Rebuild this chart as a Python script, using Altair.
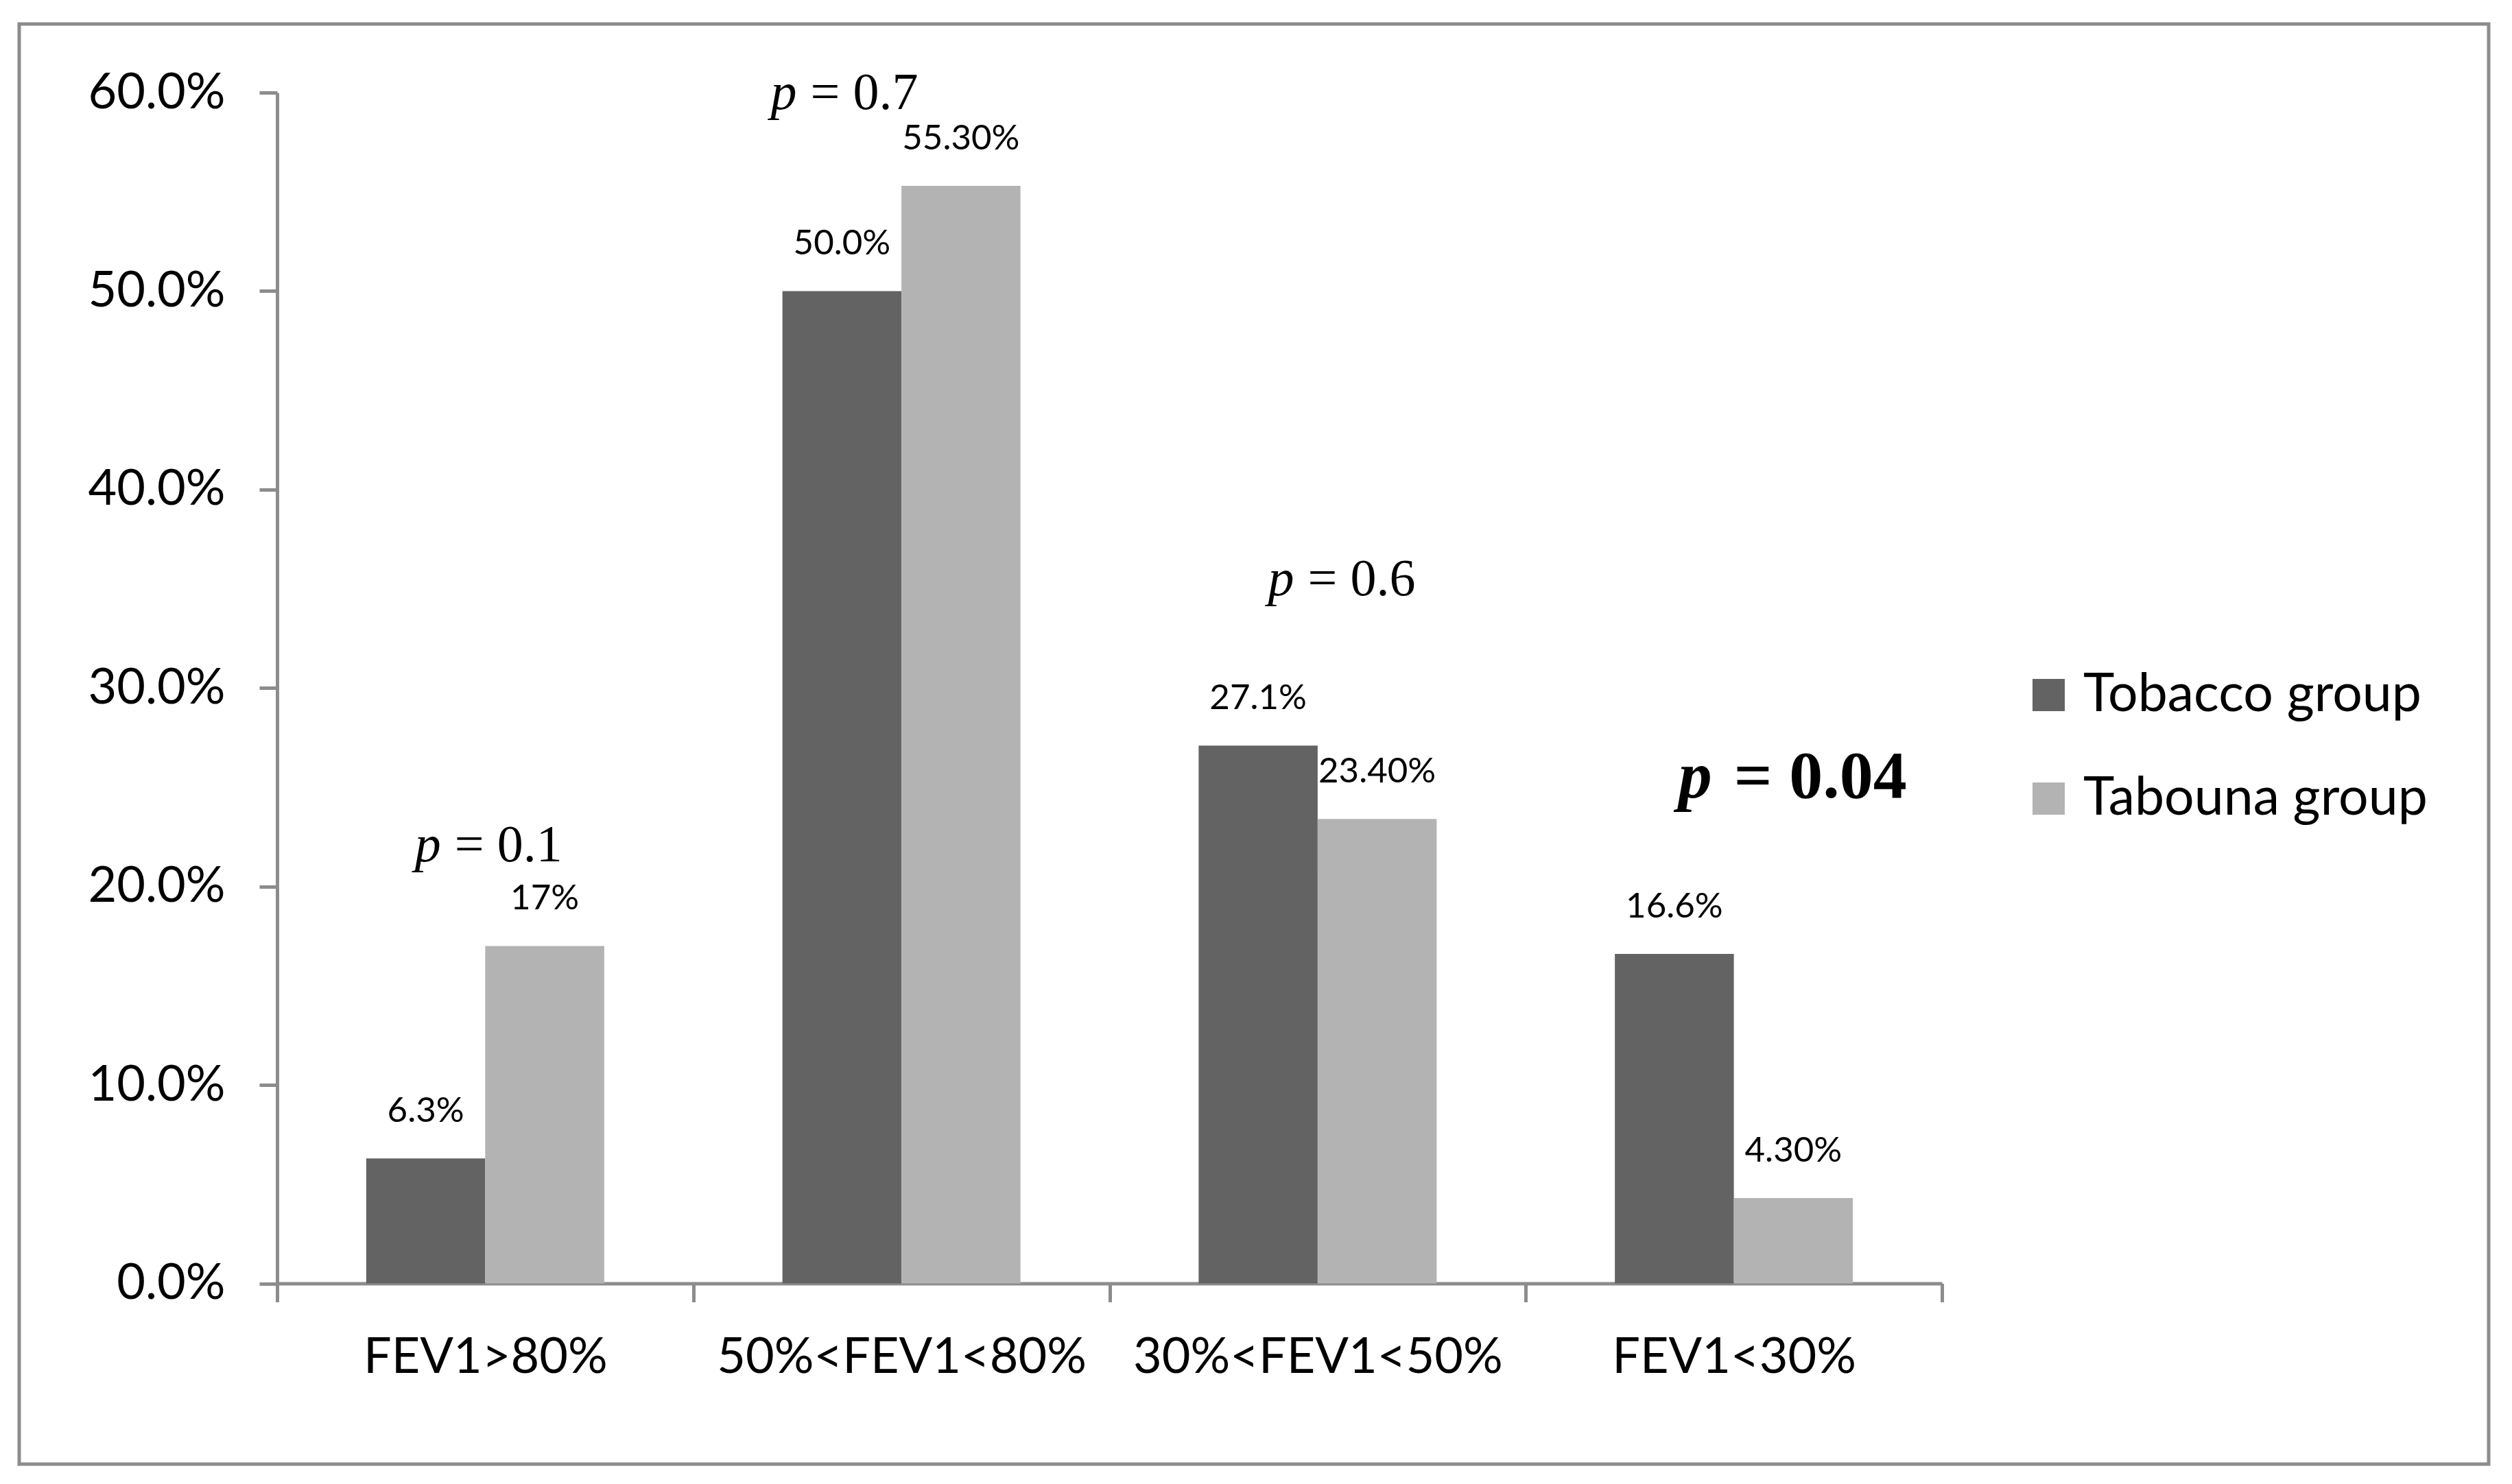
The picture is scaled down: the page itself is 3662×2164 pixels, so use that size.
import altair as alt
import pandas as pd

# ---- data ----
categories = ["FEV1>80%", "50%<FEV1<80%", "30%<FEV1<50%", "FEV1<30%"]
groups = ["Tobacco group", "Tabouna group"]
tobacco = [0.063, 0.500, 0.271, 0.166]
tabouna = [0.170, 0.553, 0.234, 0.043]
tobacco_labels = ["6.3%", "50.0%", "27.1%", "16.6%"]
tabouna_labels = ["17%", "55.30%", "23.40%", "4.30%"]
y_ticks = [0.0, 0.1, 0.2, 0.3, 0.4, 0.5, 0.6]

# p-value annotations (x in category units, y as value level)
p_text = ["= 0.1", "= 0.7", "= 0.6", "= 0.04"]
p_bold = [False, False, False, True]
p_pos = [0.410, 1.265, 2.460, 3.474]
p_level = [0.2127, 0.5917, 0.3467, 0.2448]

colors = ["#636363", "#b3b3b3"]

rows = []
for g, vals, labs in [(groups[0], tobacco, tobacco_labels), (groups[1], tabouna, tabouna_labels)]:
    for c, v, l in zip(categories, vals, labs):
        rows.append({"cat": c, "group": g, "value": v, "label": l})
df = pd.DataFrame(rows)

df_p = pd.DataFrame({"pos": p_pos, "value": p_level, "txt": p_text, "bold": p_bold, "p": ["p"] * 4})
df_pn = df_p[~df_p["bold"]]
df_pb = df_p[df_p["bold"]]

# ---- layout (pixels inside the framed view) ----
W, H = 3600, 2100
X0, X1 = 376, 2803
Y0, Y1 = 1836.5, 100
AX = "#8c8c8c"

x_scale = alt.Scale(domain=categories, range=[X0, X1], paddingInner=0, paddingOuter=0)
y_scale = alt.Scale(domain=[0, 0.6], range=[Y0, Y1], nice=False, zero=True)

x_ax = alt.Axis(title=None, labelAngle=0, tickBand="extent", labelLimit=0,
                offset=-(H - Y0), tickSize=27, labelPadding=46,
                domainColor=AX, tickColor=AX, domainWidth=5, tickWidth=5,
                labelFont="Lato", labelFontSize=72, labelColor="black")
y_ax = alt.Axis(title=None, values=y_ticks, format=".1%", offset=-X0, labelLimit=0,
                tickSize=26, labelPadding=50, grid=False,
                domainColor=AX, tickColor=AX, domainWidth=5, tickWidth=5,
                labelFont="Lato", labelFontSize=72, labelColor="black")

x_enc = alt.X("cat:N", sort=categories, scale=x_scale, axis=x_ax)
y_enc = alt.Y("value:Q", scale=y_scale, axis=y_ax)
x_off = alt.XOffset("group:N", sort=groups,
                    scale=alt.Scale(domain=groups, paddingInner=0, paddingOuter=0.7486))

bars = alt.Chart(df).mark_bar().encode(
    x=x_enc,
    xOffset=x_off,
    y=y_enc,
    color=alt.Color("group:N", sort=groups,
                    scale=alt.Scale(domain=groups, range=colors),
                    legend=alt.Legend(title=None, orient="none", legendX=2920, legendY=940,
                                      symbolType="square", symbolSize=2209,
                                      symbolStrokeWidth=0, labelLimit=0,
                                      labelFont="Lato", labelFontSize=77, labelColor="black",
                                      labelOffset=12, rowPadding=73, padding=0)),
)

labels = alt.Chart(df).mark_text(font="Lato", fontSize=51, dy=-53, baseline="alphabetic",
                                 align="center", color="black").encode(
    x=x_enc,
    xOffset=x_off,
    y=y_enc,
    text="label:N",
)

xq = alt.X("pos:Q", scale=alt.Scale(domain=[0, 4], range=[X0, X1], nice=False, zero=False), axis=None)

p_norm = alt.Chart(df_pn).mark_text(font="Liberation Serif", fontStyle="italic", fontSize=76,
                                    align="right", baseline="alphabetic", dx=-10, color="black").encode(
    x=xq, y=y_enc, text="p:N")
v_norm = alt.Chart(df_pn).mark_text(font="Liberation Serif", fontSize=76,
                                    align="left", baseline="alphabetic", dx=10, color="black").encode(
    x=xq, y=y_enc, text="txt:N")
p_b = alt.Chart(df_pb).mark_text(font="Liberation Serif", fontStyle="italic", fontWeight="bold",
                                 fontSize=98, align="right", baseline="alphabetic", dx=-16,
                                 color="black").encode(x=xq, y=y_enc, text="p:N")
v_b = alt.Chart(df_pb).mark_text(font="Liberation Serif", fontWeight="bold", fontSize=98,
                                 align="left", baseline="alphabetic", dx=16,
                                 color="black").encode(x=xq, y=y_enc, text="txt:N")

chart = alt.layer(
    alt.layer(bars, labels),
    alt.layer(p_norm, v_norm, p_b, v_b),
).resolve_scale(x="independent").properties(
    width=W, height=H,
    padding={"left": 20, "top": 27, "right": 10, "bottom": 10},
    background="white",
).configure_view(stroke=AX, strokeWidth=5, fill="white")

chart.save("out.html", embed_options={"renderer": "svg", "actions": False})
